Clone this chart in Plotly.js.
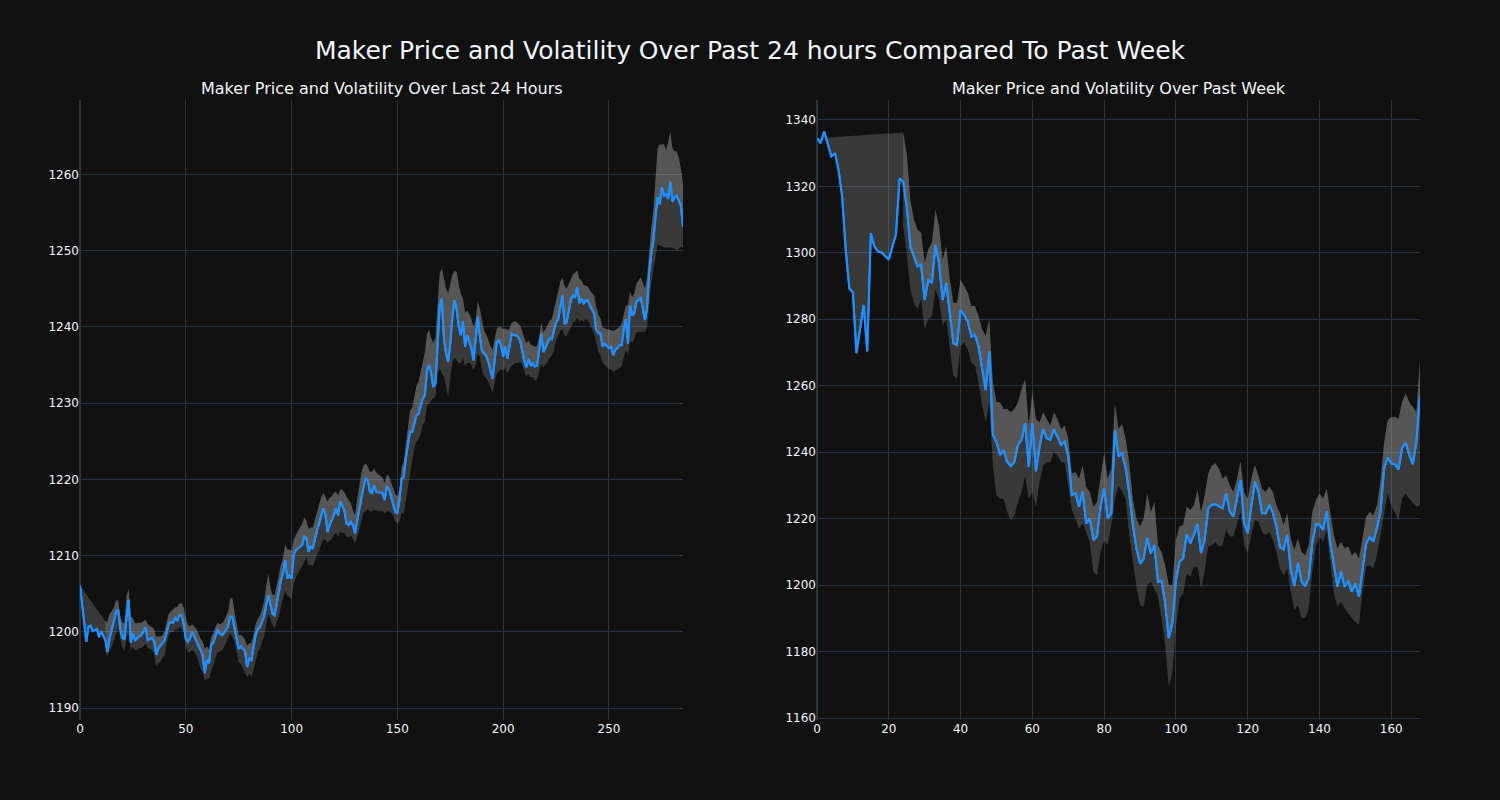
<!DOCTYPE html>
<html>
<head>
<meta charset="utf-8">
<script src="https://cdn.plot.ly/plotly-3.0.1.min.js"></script>
<style>
html,body{margin:0;padding:0;background:#111111;}
#chart{width:1500px;height:800px;}
</style>
</head>
<body>
<div id="chart"></div>
<script>
// ---- Last 24 hours (5-minute steps) ----
const dayPrice = [
1206.1,1203.8,1201.5,1198.7,1200.7,1200.8,1200.1,1200.2,1200.4,1199.3,
1200.1,1199.5,1198.9,1197.4,1199.2,1200.3,1201.4,1202.6,1202.9,1200.5,
1199.2,1199.0,1201.9,1204.2,1198.6,1199.8,1198.9,1199.2,1199.4,1199.6,
1200.1,1200.6,1198.9,1199.0,1199.2,1198.8,1197.0,1197.8,1198.2,1198.6,
1198.9,1200.0,1201.1,1201.3,1201.2,1201.8,1201.5,1202.2,1202.2,1201.0,
1199.1,1198.7,1199.2,1200.0,1199.4,1199.0,1198.3,1197.6,1196.9,1194.6,
1196.3,1195.9,1198.3,1198.6,1199.4,1200.3,1199.8,1199.6,1199.8,1200.2,
1200.7,1202.0,1202.0,1200.5,1199.1,1197.8,1198.1,1197.8,1197.5,1195.4,
1196.5,1196.3,1197.8,1199.6,1200.3,1200.6,1201.3,1202.0,1203.5,1204.8,
1203.6,1202.4,1202.2,1203.8,1204.9,1206.8,1207.8,1209.4,1207.0,1207.4,
1207.0,1210.1,1210.7,1210.9,1211.2,1211.4,1212.5,1212.3,1210.5,1211.2,
1210.9,1212.3,1213.3,1214.2,1215.1,1216.2,1215.3,1213.1,1214.0,1214.6,
1215.3,1216.2,1215.3,1217.1,1216.6,1215.8,1214.2,1214.0,1214.4,1214.0,
1212.9,1214.6,1216.2,1217.5,1219.0,1220.1,1219.9,1218.4,1218.2,1219.2,
1218.4,1218.3,1218.2,1218.2,1217.3,1219.0,1218.8,1217.8,1216.8,1215.7,
1215.6,1217.3,1220.1,1220.3,1222.8,1224.5,1226.2,1226.2,1227.5,1228.4,
1228.6,1229.5,1230.6,1231.0,1234.3,1235.0,1233.9,1232.1,1232.6,1237.5,
1242.6,1243.7,1238.5,1236.5,1235.4,1237.8,1241.3,1243.5,1242.4,1240.0,
1238.9,1240.7,1237.4,1238.9,1238.1,1237.2,1235.6,1238.2,1241.3,1238.7,
1236.8,1236.5,1236.2,1235.4,1234.3,1233.2,1235.6,1238.0,1238.2,1237.6,
1236.1,1237.4,1235.8,1237.8,1239.1,1238.9,1238.9,1238.7,1238.2,1236.9,
1235.5,1234.7,1235.8,1234.9,1235.2,1234.8,1234.9,1236.9,1239.1,1236.7,
1237.3,1237.8,1238.5,1238.4,1239.6,1240.6,1241.0,1242.5,1244.1,1240.4,
1240.6,1242.0,1243.5,1244.1,1243.9,1245.2,1243.1,1243.7,1243.1,1243.4,
1243.5,1242.8,1242.3,1241.7,1239.6,1239.2,1239.1,1237.4,1237.8,1237.5,
1237.2,1237.4,1236.3,1237.0,1237.2,1237.6,1237.6,1239.6,1241.0,1237.8,
1242.8,1241.5,1241.8,1243.3,1243.5,1243.9,1242.2,1240.9,1242.4,1247.0,
1249.6,1251.3,1254.4,1257.0,1256.1,1258.3,1257.2,1257.4,1256.8,1259.0,
1256.4,1257.0,1257.2,1256.6,1255.9,1253.1
];
// volatility band: first index where the band exists, then distance above / below the price
const dayBandStart = 12;
const dayBandUp = [
2.5,3.9,3.2,2.4,1.8,1.5,1.3,1.7,2.0,2.2,
2.8,1.5,3.5,2.0,2.2,2.0,1.8,1.6,1.3,1.0,
2.1,1.8,1.5,1.6,2.4,1.6,1.2,1.0,1.2,1.3,
1.3,1.4,1.8,1.4,1.8,1.5,1.6,2.2,2.8,2.2,
1.5,1.0,1.3,1.4,1.5,1.5,1.8,3.2,1.8,1.8,
1.0,1.2,1.2,0.9,1.2,1.5,1.6,1.8,2.0,2.4,
2.4,2.2,2.2,1.8,1.5,1.6,1.4,2.8,2.0,2.2,
1.8,1.4,1.4,1.5,1.6,2.0,2.5,2.8,2.2,2.5,
2.6,2.4,2.2,2.0,2.0,2.1,3.8,3.4,3.6,2.0,
2.0,2.3,2.5,2.8,2.5,2.3,3.0,2.5,2.8,2.5,
2.3,2.5,2.6,2.0,2.4,4.0,3.6,3.2,2.9,2.2,
2.6,1.6,2.0,2.5,3.5,3.3,2.5,2.0,2.4,2.8,
3.2,3.4,2.8,2.0,1.8,2.6,2.8,2.2,2.5,2.4,
2.3,2.0,2.2,1.6,1.6,1.8,2.0,2.4,2.2,1.5,
1.5,2.0,1.8,2.2,2.8,3.2,3.6,3.8,4.2,4.5,
4.8,5.6,4.8,4.6,4.6,5.8,6.0,5.4,4.4,4.0,
7.8,8.6,9.0,7.8,5.5,3.9,4.8,5.6,5.4,3.0,
4.5,3.2,3.6,3.8,4.4,2.6,2.2,3.6,3.8,3.0,
2.8,2.8,3.2,3.8,2.8,1.8,1.8,2.4,3.6,2.4,
3.8,2.0,1.4,1.8,1.8,1.8,2.0,2.6,3.0,3.2,
2.4,2.8,2.4,2.6,2.6,1.8,1.4,2.6,2.4,2.4,
2.3,2.6,2.6,3.0,3.6,3.4,2.4,5.0,4.4,3.6,
2.8,2.8,3.2,2.2,3.2,2.4,2.4,2.0,1.8,2.0,
2.2,2.4,3.0,2.4,2.0,2.6,2.0,2.2,2.4,2.2,
3.2,2.6,2.6,2.4,2.8,2.2,1.8,5.0,1.8,2.4,
2.6,2.4,2.6,2.6,3.6,4.2,4.0,3.0,3.4,4.0,
4.8,6.4,7.8,5.6,6.8,5.8,7.4,6.6,7.0,6.0,
5.8,5.6,4.8,5.8
];
const dayBandDown = [
1.5,0.6,1.5,2.2,2.6,2.8,2.5,1.5,1.2,1.6,
2.5,4.5,1.0,1.8,1.3,1.6,1.5,1.7,2.0,2.2,
1.0,1.3,1.6,1.6,1.5,1.9,2.1,2.0,2.0,1.5,
1.5,1.3,1.2,1.5,1.2,1.6,1.8,0.9,1.0,1.4,
1.8,2.4,2.0,2.1,2.2,2.4,2.2,1.0,2.4,2.0,
3.4,3.0,2.8,3.0,2.4,2.0,1.8,1.6,1.5,2.2,
2.6,1.8,1.6,1.8,2.3,2.6,3.0,1.3,2.0,2.2,
2.8,3.2,3.0,2.8,2.8,2.6,2.5,2.4,2.0,1.5,
1.8,2.4,2.9,3.4,3.5,4.0,2.3,2.8,2.7,3.8,
3.6,3.2,3.0,2.8,3.2,2.5,1.8,2.4,2.3,2.8,
3.2,3.5,3.6,4.0,3.2,1.4,2.0,2.4,2.6,3.2,
2.8,4.0,3.6,2.8,1.8,1.6,1.8,1.8,1.3,2.2,
2.8,3.0,3.4,4.2,3.8,2.6,2.4,3.2,2.5,2.5,
2.4,2.3,1.8,3.2,3.0,2.2,1.6,1.2,1.4,2.8,
4.5,4.8,5.5,5.5,5.2,3.8,3.4,3.5,3.3,3.6,
3.5,3.4,4.6,5.0,3.6,1.4,1.8,3.8,8.0,9.8,
5.0,4.2,4.5,4.5,6.0,7.5,6.8,4.8,3.6,4.8,
2.6,3.6,2.8,2.2,1.3,3.2,4.8,2.6,2.6,2.9,
2.9,2.6,2.2,1.8,2.8,4.0,4.0,3.2,1.8,2.8,
1.8,3.4,4.2,3.8,3.6,3.4,2.8,1.8,1.4,1.2,
2.0,1.5,1.8,1.8,1.8,2.8,4.0,2.0,2.2,2.4,
2.5,2.2,2.6,2.4,2.2,3.0,4.4,1.6,1.8,2.6,
3.4,3.6,3.2,4.0,2.4,2.8,2.4,2.4,2.6,2.4,
2.6,2.6,1.8,2.4,2.8,2.0,2.8,2.8,2.8,3.0,
2.2,2.8,2.8,3.0,2.8,3.6,4.0,1.6,4.6,3.6,
3.4,4.0,4.2,4.6,2.8,1.6,2.4,3.6,4.0,3.8,
5.0,6.2,5.4,7.8,6.8,7.0,6.4,8.6,6.0,6.8,
7.2,6.4,5.4,2.8
];

// ---- Past week (hourly steps) ----
const weekPrice = [
1334.5,1333.0,1336.5,1333.0,1329.0,1330.0,1325.0,1317.0,1301.0,1289.3,
1288.0,1269.8,1276.8,1284.3,1270.3,1305.9,1301.9,1300.4,1300.1,1298.9,
1297.9,1301.9,1305.4,1322.4,1321.4,1313.9,1301.9,1298.9,1295.9,1296.4,
1285.8,1291.8,1290.9,1302.4,1296.9,1285.8,1290.9,1281.8,1272.8,1272.3,
1282.8,1281.3,1279.3,1274.8,1275.3,1271.8,1265.7,1258.7,1270.3,1245.2,
1243.0,1239.2,1240.5,1237.1,1235.8,1237.1,1242.2,1243.7,1248.7,1235.6,
1248.7,1234.2,1241.7,1246.9,1244.2,1243.7,1246.9,1244.7,1242.2,1243.2,
1238.7,1227.1,1227.6,1223.6,1228.1,1218.6,1220.1,1213.6,1214.6,1223.6,
1229.1,1220.1,1221.6,1246.7,1238.7,1239.7,1235.1,1227.6,1218.0,1211.0,
1206.5,1207.8,1214.2,1209.5,1212.0,1201.0,1201.2,1194.5,1184.0,1188.5,
1201.5,1207.0,1208.0,1215.3,1212.6,1215.1,1218.4,1209.6,1213.6,1223.1,
1224.2,1224.3,1223.6,1223.1,1227.6,1222.1,1220.6,1225.6,1231.6,1218.6,
1215.6,1223.6,1231.1,1228.1,1221.6,1221.6,1224.1,1221.8,1217.5,1211.3,
1210.8,1215.1,1204.5,1199.7,1206.7,1201.1,1199.6,1202.1,1212.6,1218.4,
1218.1,1216.6,1222.1,1212.6,1206.6,1199.5,1204.0,1199.5,1201.2,1198.0,
1200.5,1196.5,1204.5,1212.6,1214.4,1213.1,1217.1,1222.1,1235.1,1238.4,
1236.6,1236.4,1234.8,1241.2,1242.9,1239.2,1236.4,1243.1,1257.2
];
const weekBandStart = 24;
const weekUpper = [
1336.2,1330,1316,1310,1307,1306,1297,1301,1303,1313,
1308,1298,1302,1292,1285,1285,1292,1290,1288,1284,
1284,1281,1277,1275,1280,1261,1255,1255,1253,1253,
1252,1253,1255,1259,1262,1248,1258,1250,1249,1252,
1250,1248,1252,1250,1247,1248,1244,1233.6,1234,1232,
1236,1229.6,1228,1223.6,1225,1232,1239.7,1232,1235,1254.7,
1247,1248.5,1244,1236.7,1226,1220,1217.6,1220,1227.6,1222,
1225,1212,1210,1206,1200,1200,1213.6,1217.6,1218,1223.6,
1222.6,1224,1228.6,1222,1227,1233.6,1236,1236.7,1235,1232,
1233,1230,1228,1232,1237.2,1228,1226,1232,1236.2,1233,
1229,1228,1229.6,1228,1224,1221.6,1218,1221.6,1214,1210.6,
1214,1210,1209,1212,1222,1225.6,1227.6,1226,1229.1,1222,
1215.1,1211,1213.1,1211,1211.6,1209,1210,1208,1214,1220.6,
1222,1221,1224,1231.6,1243,1249.7,1250.5,1250.7,1250,1255,
1257.7,1255,1253.7,1252,1267.8
];
const weekLower = [
1308,1300,1289,1285,1283,1286,1277,1280,1281,1289,
1286,1278,1280,1272,1263,1262,1272,1273,1271,1267,
1266,1261,1254,1249,1255,1236,1227,1226,1226,1222,
1219.5,1221,1225,1228,1233,1226,1228,1223.6,1231,1236,
1237,1237,1240,1239,1237,1237,1230,1222.6,1220,1217,
1218.6,1215.6,1213,1204,1203,1210,1213.5,1212,1218,1226,
1230,1228,1226,1215,1207,1199.5,1194,1193.5,1200,1201,
1199,1196.5,1190,1182,1169.4,1173.5,1187.5,1196,1197.5,1203.5,
1202.5,1205.5,1205.5,1199,1204,1211.6,1212,1213,1211.6,1212,
1216.6,1214.6,1214.6,1218,1222,1212,1209.6,1215,1219.6,1219,
1216,1215,1216,1213.6,1210,1205,1203,1205,1198,1192.5,
1194,1190,1190,1193,1204,1212,1214.6,1213,1216.6,1207,
1197.5,1193.5,1195,1193,1191.5,1190,1189,1188,1198,1205.5,
1206,1205,1209,1215,1222,1227.6,1224,1221.6,1219.6,1226,
1227.6,1226,1224.6,1223.6,1224
];

const mainTitle = 'Maker Price and Volatility Over Past 24 hours Compared To Past Week';
const dayTitle = 'Maker Price and Volatility Over Last 24 Hours';
const weekTitle = 'Maker Price and Volatility Over Past Week';

// ---- build traces ----
const LINE = '#1E90FF';
const FILL = 'rgba(160,160,160,0.28)';

const dayX = dayPrice.map((_, i) => i);
const dayBandX = dayBandUp.map((_, k) => k + dayBandStart);
const dayUpper = dayBandUp.map((d, k) => dayPrice[k + dayBandStart] + d);
const dayLower = dayBandDown.map((d, k) => dayPrice[k + dayBandStart] - d);

const weekX = weekPrice.map((_, i) => i);
const weekBandX = weekUpper.map((_, k) => k + weekBandStart);

function priceTrace(x, y, xa, ya) {
  return {x: x, y: y, mode: 'lines', line: {color: LINE, width: 2},
          xaxis: xa, yaxis: ya, hoverinfo: 'skip', showlegend: false};
}
function bandTrace(x, y, xa, ya) {
  return {x: x, y: y, mode: 'lines', line: {width: 0, color: FILL},
          fill: 'tonexty', fillcolor: FILL, xaxis: xa, yaxis: ya,
          hoverinfo: 'skip', showlegend: false};
}

const data = [
  priceTrace(dayX, dayPrice, 'x', 'y'),
  bandTrace(dayBandX, dayUpper, 'x', 'y'),
  bandTrace(dayBandX, dayLower, 'x', 'y'),
  priceTrace(dayX, dayPrice, 'x', 'y'),
  priceTrace(weekX, weekPrice, 'x2', 'y2'),
  bandTrace(weekBandX, weekUpper, 'x2', 'y2'),
  bandTrace(weekBandX, weekLower, 'x2', 'y2'),
  priceTrace(weekX, weekPrice, 'x2', 'y2')
];

const GRID = '#283442';
const TXT = '#f2f5fa';
const FONT = '"DejaVu Sans", Verdana, sans-serif';
function ax(extra) {
  return Object.assign({
    gridcolor: GRID, zerolinecolor: GRID, zerolinewidth: 2, linecolor: '#506784',
    showline: false, ticks: '', tickfont: {family: FONT, color: TXT, size: 12}
  }, extra);
}

const layout = {
  width: 1500, height: 800,
  paper_bgcolor: 'rgb(17,17,17)', plot_bgcolor: 'rgb(17,17,17)',
  font: {family: FONT, color: TXT, size: 12},
  margin: {l: 80, r: 80, t: 100, b: 80},
  showlegend: false,
  title: {text: mainTitle, x: 0.5, xanchor: 'center', xref: 'paper',
          y: 0.9375, yanchor: 'middle', yref: 'container',
          font: {family: FONT, size: 25, color: TXT}},
  xaxis: ax({domain: [0, 0.45], range: [0, 285], dtick: 50, anchor: 'y'}),
  yaxis: ax({domain: [0, 1], range: [1188.45, 1269.75], dtick: 10, anchor: 'x', zeroline: false}),
  xaxis2: ax({domain: [0.55, 1], range: [0, 168], dtick: 20, anchor: 'y2'}),
  yaxis2: ax({domain: [0, 1], range: [1159.4, 1346], dtick: 20, anchor: 'x2', zeroline: false}),
  annotations: [
    {text: dayTitle, x: 0.225, y: 1, xref: 'paper', yref: 'paper', xanchor: 'center',
     yanchor: 'bottom', showarrow: false, font: {family: FONT, size: 16, color: TXT}},
    {text: weekTitle, x: 0.775, y: 1, xref: 'paper', yref: 'paper', xanchor: 'center',
     yanchor: 'bottom', showarrow: false, font: {family: FONT, size: 16, color: TXT}}
  ]
};

Plotly.newPlot('chart', data, layout, {displayModeBar: false, responsive: false});
</script>
</body>
</html>
